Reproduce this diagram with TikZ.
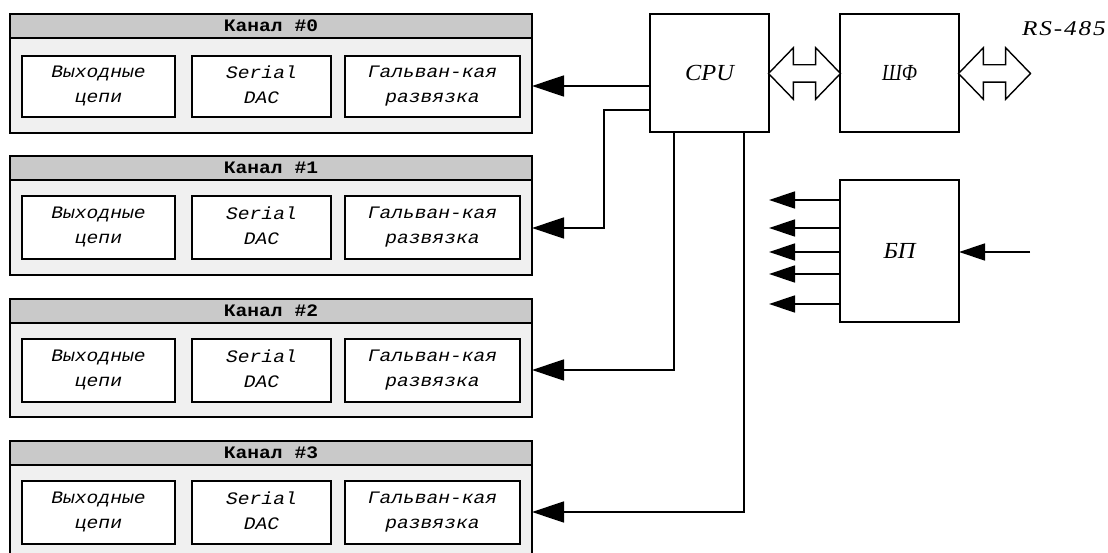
\documentclass[tikz,border=0pt]{standalone}
\usepackage{fontspec}
\usetikzlibrary{arrows.meta,shapes.arrows}
\setmainfont{Liberation Sans}
\newfontfamily\monoA[FakeStretch=1.12]{Liberation Mono}
\newfontfamily\serifB[FakeStretch=1.06]{Liberation Serif}
\newfontfamily\serifD[FakeStretch=0.82]{Liberation Serif}
\newfontfamily\serifC[FakeStretch=1.2,LetterSpace=9]{Liberation Serif}
\newcommand{\lnstrut}{\vphantom{Ау}}
\definecolor{hdr}{gray}{0.79}
\definecolor{bodyfill}{gray}{0.94}
\tikzset{
  every node/.style={outer sep=0pt},
  chan/.style={draw=black,fill=bodyfill,minimum width=522pt,anchor=north west,inner sep=0pt},
  hdrbox/.style={draw=black,fill=hdr,minimum width=522pt,minimum height=24pt,anchor=north west,inner sep=0pt,font=\monoA\bfseries\fontsize{17.5}{18}\selectfont},
  inner box/.style={draw=black,fill=white,anchor=north west,inner sep=0pt,align=center,font=\monoA\itshape\fontsize{17.5}{25}\selectfont},
  block/.style={draw=black,fill=white,minimum width=119pt,anchor=north west,inner sep=0pt,font=\serifB\itshape\fontsize{23}{24}\selectfont},
  conn/.style={draw=black,-{Triangle[length=32pt,width=21pt]}},
  shortconn/.style={draw=black,-{Triangle[length=26pt,width=17pt]}},
  bus/.style={draw=black,fill=white,shape=double arrow,double arrow tip angle=92,double arrow head extend=17pt,minimum height=72pt,minimum width=50pt,text height=8pt,text depth=8pt,text width=0pt,inner sep=0pt,line join=miter}
}
\begin{document}
\begin{tikzpicture}[x=1pt,y=-1pt,line width=1.4pt]
\clip (0,0) rectangle (1108,553);
\fill[white] (0,0) rectangle (1108,553);
\foreach \n/\t/\oh/\ioff/\ih in {0/14/119/42/61,1/156/119/40/63,2/299/118/40/63,3/441/125/40/63}{
  \node[chan,minimum height=\oh pt] (ch\n) at (10,\t) {};
  \node[hdrbox] (h\n) at (10,\t) {Канал \#\n};
  \node[inner box,minimum width=153pt,minimum height=\ih pt] (o\n) at (22,\t+\ioff) {\lnstrut Выходные\\\lnstrut цепи};
  \node[inner box,minimum width=139pt,minimum height=\ih pt] (d\n) at (192,\t+\ioff) {\lnstrut Serial\\\lnstrut DAC};
  \node[inner box,minimum width=175pt,minimum height=\ih pt] (g\n) at (345,\t+\ioff) {\lnstrut Гальван-кая\\\lnstrut развязка};
}
\node[block,minimum height=118pt] (cpu) at (650,14) {CPU};
\node[block,minimum height=118pt] (sf) at (840,14) {\serifD\itshape ШФ};
\node[block,minimum height=142pt] (bp) at (840,180) {БП};
\node[anchor=base west,font=\serifC\itshape\fontsize{21}{22}\selectfont,inner sep=0pt] (rs) at (1022,36) {RS-485};
\node[bus] (b1) at (804.5,73.5) {};
\node[bus] (b2) at (994.5,73.5) {};
\draw[conn] (cpu.west |- 0,86) -- (ch0.east |- 0,86);
\draw[conn] (cpu.west |- 0,110) -| (604,228) -- (ch1.east |- 0,228);
\draw[conn] (cpu.south west -| 674,132) |- (ch2.east |- 0,370);
\draw[conn] (cpu.south west -| 744,132) |- (ch3.east |- 0,512);
\foreach \i/\y in {1/200,2/228,3/252,4/274,5/304}{
  \coordinate (pw\i) at (769,\y);
  \draw[shortconn] (bp.west |- pw\i) -- (pw\i);
}
\coordinate (ac) at (1030,252);
\draw[shortconn] (ac) -- (bp.east |- ac);
\end{tikzpicture}
\end{document}
